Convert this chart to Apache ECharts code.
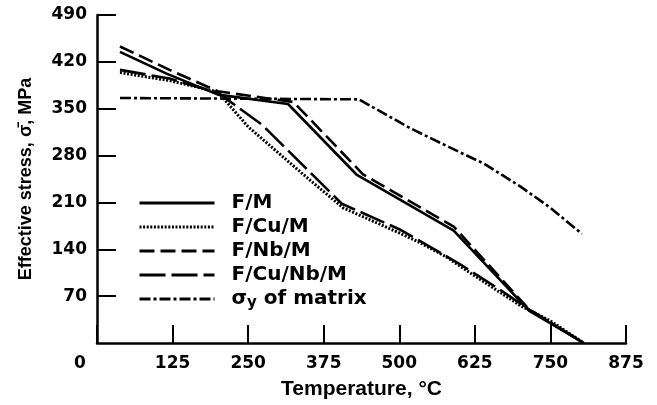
<!DOCTYPE html>
<html>
<head>
<meta charset="utf-8">
<script src="https://cdn.jsdelivr.net/npm/echarts@6/dist/echarts.min.js"></script>
<style>
  html, body { margin: 0; padding: 0; background: #fff; }
  #chart { width: 657px; height: 405px; }
</style>
</head>
<body>
<div id="chart"></div>
<script>
// Temperature (°C) / effective stress (MPa) for each composite
const fmTemp      = [38, 116, 200, 316, 430, 590, 715, 805];
const fmStress    = [435, 402, 371, 357, 251, 168, 48, 0];

const fcumTemp    = [38, 120, 200, 250, 300, 350, 407, 501, 534, 579, 605, 666, 700, 750, 805];
const fcumStress  = [404, 392, 375, 323, 284, 245, 202, 164, 150, 128, 112, 76, 56, 33, 0];

const fnbmTemp    = [38, 120, 200, 325, 440, 590, 715, 805];
const fnbmStress  = [443, 408, 376, 360, 252, 174, 50, 0];

const fcunbmTemp   = [38, 120, 200, 273, 405, 500, 600, 666, 715, 805];
const fcunbmStress = [408, 395, 374, 326, 208, 170, 118, 80, 50, 0];

const matrixTemp   = [38, 433, 520, 600, 640, 700, 750, 802];
const matrixStress = [366, 364, 320, 285, 268, 234, 202, 163];

const seriesNames = ['F/M', 'F/Cu/M', 'F/Nb/M', 'F/Cu/Nb/M', 'σy of matrix'];
const xTicks = { min: 0, max: 875, step: 125 };
const yTicks = { min: 0, max: 490, step: 70 };

const zip = (xs, ys) => xs.map((x, i) => [x, ys[i]]);

const FONT = 'DejaVu Sans';
const TITLE_FONT = 'Liberation Sans';
const BLACK = '#000';

function lineSeries(name, temps, stresses, dash, width) {
  return {
    name: name,
    type: 'line',
    data: zip(temps, stresses),
    symbol: 'none',
    smooth: false,
    lineStyle: { color: BLACK, width: width, type: dash },
    itemStyle: { color: BLACK },
    z: 3
  };
}

const chart = echarts.init(document.getElementById('chart'), null, { renderer: 'canvas' });

chart.setOption({
  backgroundColor: '#fff',
  animation: false,
  grid: { left: 97, right: 31, top: 15, bottom: 62, containLabel: false },
  legend: {
    orient: 'vertical',
    left: 138,
    top: 193,
    padding: 0,
    itemWidth: 75,
    itemHeight: 14,
    itemGap: 4,
    selectedMode: false,
    data: seriesNames,
    itemStyle: { opacity: 0 },
    lineStyle: { width: 3 },
    formatter: function (name) {
      if (name === 'σy of matrix') return '{m|σ}{s|y}{m| of matrix}';
      return name;
    },
    textStyle: {
      fontFamily: FONT,
      fontWeight: 'bold',
      fontSize: 20,
      color: BLACK,
      padding: [0, 0, 0, 12],
      rich: {
        m: { fontFamily: FONT, fontWeight: 'bold', fontSize: 20, color: BLACK, verticalAlign: 'middle' },
        s: { fontFamily: FONT, fontWeight: 'bold', fontSize: 15, color: BLACK, verticalAlign: 'top', padding: [8, 0, 0, 0] }
      }
    }
  },
  xAxis: {
    type: 'value',
    min: xTicks.min,
    max: xTicks.max,
    interval: xTicks.step,
    name: 'Temperature, °C',
    nameLocation: 'middle',
    nameGap: 36,
    nameTextStyle: { fontFamily: TITLE_FONT, fontWeight: 'bold', fontSize: 21, color: BLACK },
    axisLine: { show: true, onZero: false, lineStyle: { color: BLACK, width: 2.5 } },
    axisTick: { show: true, inside: true, length: 18, lineStyle: { color: BLACK, width: 2 } },
    splitLine: { show: false },
    axisLabel: {
      margin: 12,
      fontFamily: FONT,
      fontWeight: 'bold',
      fontSize: 17,
      color: BLACK,
      formatter: function (v) { return v === 0 ? '{o|0}' : String(v); },
      rich: {
        o: { fontFamily: FONT, fontWeight: 'bold', fontSize: 17, color: BLACK, padding: [0, 34, 0, 0] }
      }
    }
  },
  yAxis: {
    type: 'value',
    min: yTicks.min,
    max: yTicks.max,
    interval: yTicks.step,
    name: 'Effective stress, σ\u0304, MPa',
    nameLocation: 'middle',
    nameGap: 62,
    nameTextStyle: { fontFamily: TITLE_FONT, fontWeight: 'bold', fontSize: 18, color: BLACK },
    axisLine: { show: true, onZero: false, lineStyle: { color: BLACK, width: 2.5 } },
    axisTick: { show: true, inside: true, length: 19, lineStyle: { color: BLACK, width: 2 } },
    splitLine: { show: false },
    axisLabel: {
      margin: 10,
      showMinLabel: false,
      fontFamily: FONT,
      fontWeight: 'bold',
      fontSize: 17,
      color: BLACK,
      formatter: function (v) { return v === 0 ? '' : String(v); }
    }
  },
  series: [
    lineSeries('F/M', fmTemp, fmStress, 'solid', 2.6),
    lineSeries('F/Cu/M', fcumTemp, fcumStress, [2, 1.6], 3),
    lineSeries('F/Nb/M', fnbmTemp, fnbmStress, [15, 6], 2.6),
    lineSeries('F/Cu/Nb/M', fcunbmTemp, fcunbmStress, [26, 6], 2.6),
    lineSeries('σy of matrix', matrixTemp, matrixStress, [11, 3, 3, 3], 2.6)
  ]
});
</script>
</body>
</html>
